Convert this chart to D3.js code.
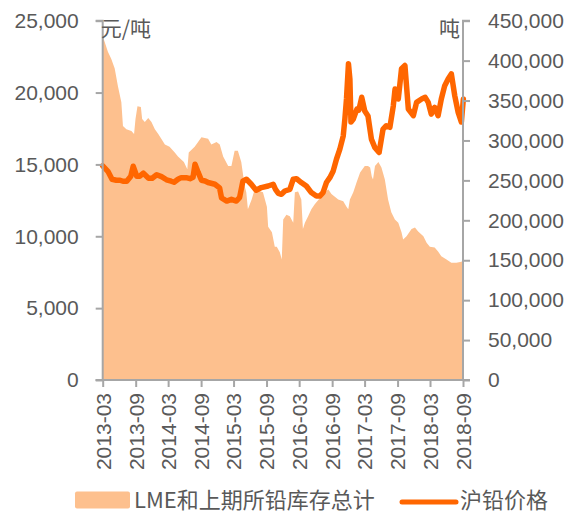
<!DOCTYPE html>
<html>
<head>
<meta charset="utf-8">
<script src="https://cdn.jsdelivr.net/npm/d3@7"></script>
<style>
    body { margin: 0; background: #fff; }
    svg text { font-family: 'Liberation Sans', 'Noto Sans CJK SC', sans-serif; fill: #595959; }
    .cjk { font-family: 'Noto Sans CJK SC', sans-serif; }
</style>
</head>
<body>
<div id="chart"></div>
<script>
// LME + SHFE lead inventory (tonnes, right axis)
const stockData = [
    ["2013-03-01", 430000], ["2013-03-08", 426000], ["2013-03-30", 411000], ["2013-04-18", 402000],
    ["2013-05-07", 390000], ["2013-05-25", 368000], ["2013-06-13", 348000], ["2013-06-22", 318000],
    ["2013-07-11", 314000], ["2013-08-08", 312000], ["2013-08-23", 308000], ["2013-08-31", 327000],
    ["2013-09-11", 343000], ["2013-09-30", 342000], ["2013-10-07", 327000], ["2013-10-22", 323000],
    ["2013-11-10", 328000], ["2013-11-28", 323000], ["2013-12-17", 314000], ["2014-01-05", 308000],
    ["2014-02-11", 295000], ["2014-03-09", 292000], ["2014-04-07", 285000], ["2014-04-25", 280000],
    ["2014-05-28", 273000], ["2014-06-16", 264000], ["2014-06-24", 285000], ["2014-07-27", 292000],
    ["2014-09-03", 304000], ["2014-10-10", 302000], ["2014-10-28", 295000], ["2014-11-26", 298000],
    ["2014-12-14", 295000], ["2015-01-02", 280000], ["2015-01-30", 268000], ["2015-02-17", 268000],
    ["2015-03-07", 287000], ["2015-03-25", 287000], ["2015-04-13", 273000], ["2015-05-02", 243000],
    ["2015-05-11", 235000], ["2015-05-20", 214000], ["2015-06-10", 226000], ["2015-06-27", 239000],
    ["2015-08-12", 235000], ["2015-09-03", 217000], ["2015-09-10", 192000], ["2015-10-01", 185000],
    ["2015-10-17", 167000], ["2015-10-28", 167000], ["2015-11-14", 160000], ["2015-11-25", 151000],
    ["2015-12-03", 201000], ["2015-12-21", 207000], ["2016-01-09", 205000], ["2016-01-28", 197000],
    ["2016-02-06", 235000], ["2016-02-24", 236000], ["2016-03-13", 226000], ["2016-03-22", 189000],
    ["2016-04-02", 197000], ["2016-04-20", 205000], ["2016-05-08", 214000], ["2016-05-27", 220000],
    ["2016-07-03", 230000], ["2016-08-10", 239000], ["2016-08-28", 233000], ["2016-10-05", 226000],
    ["2016-11-02", 224000], ["2016-11-20", 217000], ["2016-11-30", 214000], ["2016-12-09", 226000],
    ["2016-12-28", 235000], ["2017-01-16", 248000], ["2017-02-04", 260000], ["2017-03-02", 268000],
    ["2017-03-20", 268000], ["2017-04-01", 266000], ["2017-04-10", 255000], ["2017-04-17", 251000],
    ["2017-04-28", 268000], ["2017-05-17", 273000], ["2017-06-03", 266000], ["2017-06-22", 251000],
    ["2017-07-10", 226000], ["2017-07-28", 210000], ["2017-08-17", 201000], ["2017-09-05", 197000],
    ["2017-09-23", 185000], ["2017-10-02", 176000], ["2017-10-21", 180000], ["2017-11-18", 189000],
    ["2017-12-07", 191000], ["2017-12-25", 186000], ["2018-01-23", 180000], ["2018-02-10", 172000],
    ["2018-02-28", 167000], ["2018-03-27", 166000], ["2018-04-15", 161000], ["2018-05-03", 155000],
    ["2018-06-01", 151000], ["2018-06-28", 147000], ["2018-07-26", 147000], ["2018-08-23", 148000],
    ["2018-09-03", 150000]
];

// SHFE lead price (yuan/tonne, left axis)
const priceData = [
    ["2013-03-01", 14900], ["2013-03-30", 14520], ["2013-04-22", 13970], ["2013-05-16", 13900],
    ["2013-06-06", 13900], ["2013-06-22", 13830], ["2013-07-13", 13830], ["2013-08-05", 14180],
    ["2013-08-18", 14870], ["2013-09-07", 14180], ["2013-09-24", 14180], ["2013-10-14", 14390],
    ["2013-11-12", 14040], ["2013-12-02", 14040], ["2013-12-27", 14280], ["2014-01-23", 14150],
    ["2014-02-20", 13930], ["2014-03-18", 13830], ["2014-04-03", 13760], ["2014-04-25", 13970],
    ["2014-05-13", 14080], ["2014-06-10", 14080], ["2014-07-01", 14010], ["2014-07-18", 14110],
    ["2014-07-29", 15010], ["2014-08-15", 14460], ["2014-09-03", 13900], ["2014-09-23", 13850],
    ["2014-10-10", 13740], ["2014-11-17", 13620], ["2014-12-13", 13370], ["2014-12-24", 12670],
    ["2015-01-22", 12450], ["2015-02-17", 12570], ["2015-03-17", 12450], ["2015-04-04", 12710],
    ["2015-04-22", 13830], ["2015-05-12", 13970], ["2015-06-08", 13620], ["2015-07-05", 13200],
    ["2015-08-03", 13390], ["2015-09-10", 13500], ["2015-10-08", 13620], ["2015-10-21", 13270],
    ["2015-11-06", 12990], ["2015-11-23", 12920], ["2015-12-12", 13150], ["2016-01-09", 13270],
    ["2016-01-28", 13970], ["2016-02-15", 14010], ["2016-03-13", 13740], ["2016-04-10", 13500],
    ["2016-05-08", 13040], ["2016-06-05", 12800], ["2016-06-24", 12800], ["2016-07-12", 13040],
    ["2016-07-31", 13740], ["2016-08-19", 14080], ["2016-09-07", 14550], ["2016-09-25", 15360],
    ["2016-10-14", 16060], ["2016-11-02", 16990], ["2016-11-11", 18160], ["2016-11-20", 19550],
    ["2016-12-01", 22000], ["2016-12-09", 20950], ["2016-12-15", 17950], ["2016-12-28", 18160],
    ["2017-01-17", 18850], ["2017-01-28", 18780], ["2017-02-13", 19670], ["2017-03-02", 18710],
    ["2017-03-20", 18370], ["2017-04-08", 16760], ["2017-04-27", 16180], ["2017-05-21", 15830],
    ["2017-06-12", 17460], ["2017-06-30", 17690], ["2017-07-20", 17580], ["2017-08-08", 19060],
    ["2017-08-18", 20250], ["2017-09-05", 19550], ["2017-09-23", 21650], ["2017-10-12", 21880],
    ["2017-10-31", 18850], ["2017-11-28", 18390], ["2017-12-16", 19320], ["2018-01-13", 19550],
    ["2018-02-02", 19670], ["2018-02-19", 19320], ["2018-03-08", 18500], ["2018-03-27", 18970],
    ["2018-04-15", 18390], ["2018-05-03", 19550], ["2018-05-22", 20480], ["2018-06-10", 20950],
    ["2018-06-28", 21300], ["2018-07-17", 19780], ["2018-08-05", 18620], ["2018-08-23", 17950],
    ["2018-09-03", 19550]
];

const xTickLabels = ["2013-03", "2013-09", "2014-03", "2014-09", "2015-03", "2015-09",
    "2016-03", "2016-09", "2017-03", "2017-09", "2018-03", "2018-09"];
const leftTicks = [0, 5000, 10000, 15000, 20000, 25000];
const rightTicks = [0, 50000, 100000, 150000, 200000, 250000, 300000, 350000, 400000, 450000];
const seriesNames = ["LME和上期所铅库存总计", "沪铅价格"];
const unitLeft = "元/吨";
const unitRight = "吨";

const width = 582, height = 516;
const margin = { left: 102.7, right: 119, top: 20.7, bottom: 136 };
const axisColor = '#a6a6a6';
const areaColor = '#fdc08e';
const lineColor = '#ff6600';

const parseDay = d3.timeParse('%Y-%m-%d');
const parseMonth = d3.timeParse('%Y-%m');
const stock = stockData.map(d => ({ date: parseDay(d[0]), value: d[1] }));
const price = priceData.map(d => ({ date: parseDay(d[0]), value: d[1] }));
const tickDates = xTickLabels.map(parseMonth);

const svg = d3.select('#chart').append('svg')
    .attr('width', width)
    .attr('height', height);

// Scales
const xScale = d3.scaleTime()
    .domain([tickDates[0], tickDates[tickDates.length - 1]])
    .range([margin.left, width - margin.right]);

const yLeft = d3.scaleLinear()
    .domain([0, 25000])
    .range([height - margin.bottom, margin.top]);

const yRight = d3.scaleLinear()
    .domain([0, 450000])
    .range([height - margin.bottom, margin.top]);

// Inventory area
const area = d3.area()
    .x(d => xScale(d.date))
    .y0(yRight(0))
    .y1(d => yRight(d.value));

svg.append('path')
    .datum(stock)
    .attr('fill', areaColor)
    .attr('d', area);

// Price line
const line = d3.line()
    .x(d => xScale(d.date))
    .y(d => yLeft(d.value));

svg.append('path')
    .datum(price)
    .attr('fill', 'none')
    .attr('stroke', lineColor)
    .attr('stroke-width', 5.5)
    .attr('stroke-linejoin', 'round')
    .attr('stroke-linecap', 'round')
    .attr('d', line);

// Axes
const fmt = d3.format(',');

const leftAxis = svg.append('g')
    .attr('transform', `translate(${margin.left},0)`)
    .call(d3.axisLeft(yLeft).tickValues(leftTicks).tickFormat(fmt).tickSize(7).tickPadding(17));

const rightAxis = svg.append('g')
    .attr('transform', `translate(${width - margin.right},0)`)
    .call(d3.axisRight(yRight).tickValues(rightTicks).tickFormat(fmt).tickSize(7).tickPadding(18));

const bottomAxis = svg.append('g')
    .attr('transform', `translate(0,${height - margin.bottom})`)
    .call(d3.axisBottom(xScale).tickValues(tickDates).tickFormat((d, i) => xTickLabels[i]).tickSize(7));

bottomAxis.selectAll('text')
    .attr('transform', 'rotate(-90)')
    .attr('x', -13)
    .attr('y', 0)
    .attr('dy', '0.35em')
    .style('text-anchor', 'end');

[leftAxis, rightAxis, bottomAxis].forEach(g => {
    g.select('.domain').attr('stroke', axisColor).attr('stroke-width', 2);
    g.selectAll('.tick line').attr('stroke', axisColor).attr('stroke-width', 2);
    g.selectAll('text')
        .style('font-size', '21px')
        .style('fill', '#595959');
});
leftAxis.select('.domain').attr('d', `M-7,${yLeft(25000)}H0V${yLeft(0)}H-7`);
rightAxis.select('.domain').attr('d', `M7,${yRight(450000)}H0V${yRight(0)}H7`);
bottomAxis.select('.domain').attr('d', `M${margin.left - 7},0H${width - margin.right + 7}`);

// Unit labels
svg.append('text')
    .attr('class', 'cjk')
    .attr('x', margin.left - 2)
    .attr('y', 36)
    .style('font-size', '21px')
    .text(unitLeft);

svg.append('text')
    .attr('class', 'cjk')
    .attr('x', width - margin.right - 3)
    .attr('y', 36)
    .attr('text-anchor', 'end')
    .style('font-size', '21px')
    .text(unitRight);

// Legend
const legend = svg.append('g').attr('transform', 'translate(0,500)');

legend.append('rect')
    .attr('x', 75)
    .attr('y', -8.5)
    .attr('width', 55)
    .attr('height', 17)
    .attr('rx', 2)
    .attr('fill', areaColor);

legend.append('text')
    .attr('class', 'cjk')
    .attr('x', 134)
    .attr('y', 0)
    .attr('dy', '0.38em')
    .style('font-size', '22px')
    .text(seriesNames[0]);

legend.append('line')
    .attr('x1', 402)
    .attr('x2', 456)
    .attr('y1', 2)
    .attr('y2', 2)
    .attr('stroke', lineColor)
    .attr('stroke-width', 5)
    .attr('stroke-linecap', 'round');

legend.append('text')
    .attr('class', 'cjk')
    .attr('x', 460)
    .attr('y', 0)
    .attr('dy', '0.38em')
    .style('font-size', '22px')
    .text(seriesNames[1]);
</script>
</body>
</html>
